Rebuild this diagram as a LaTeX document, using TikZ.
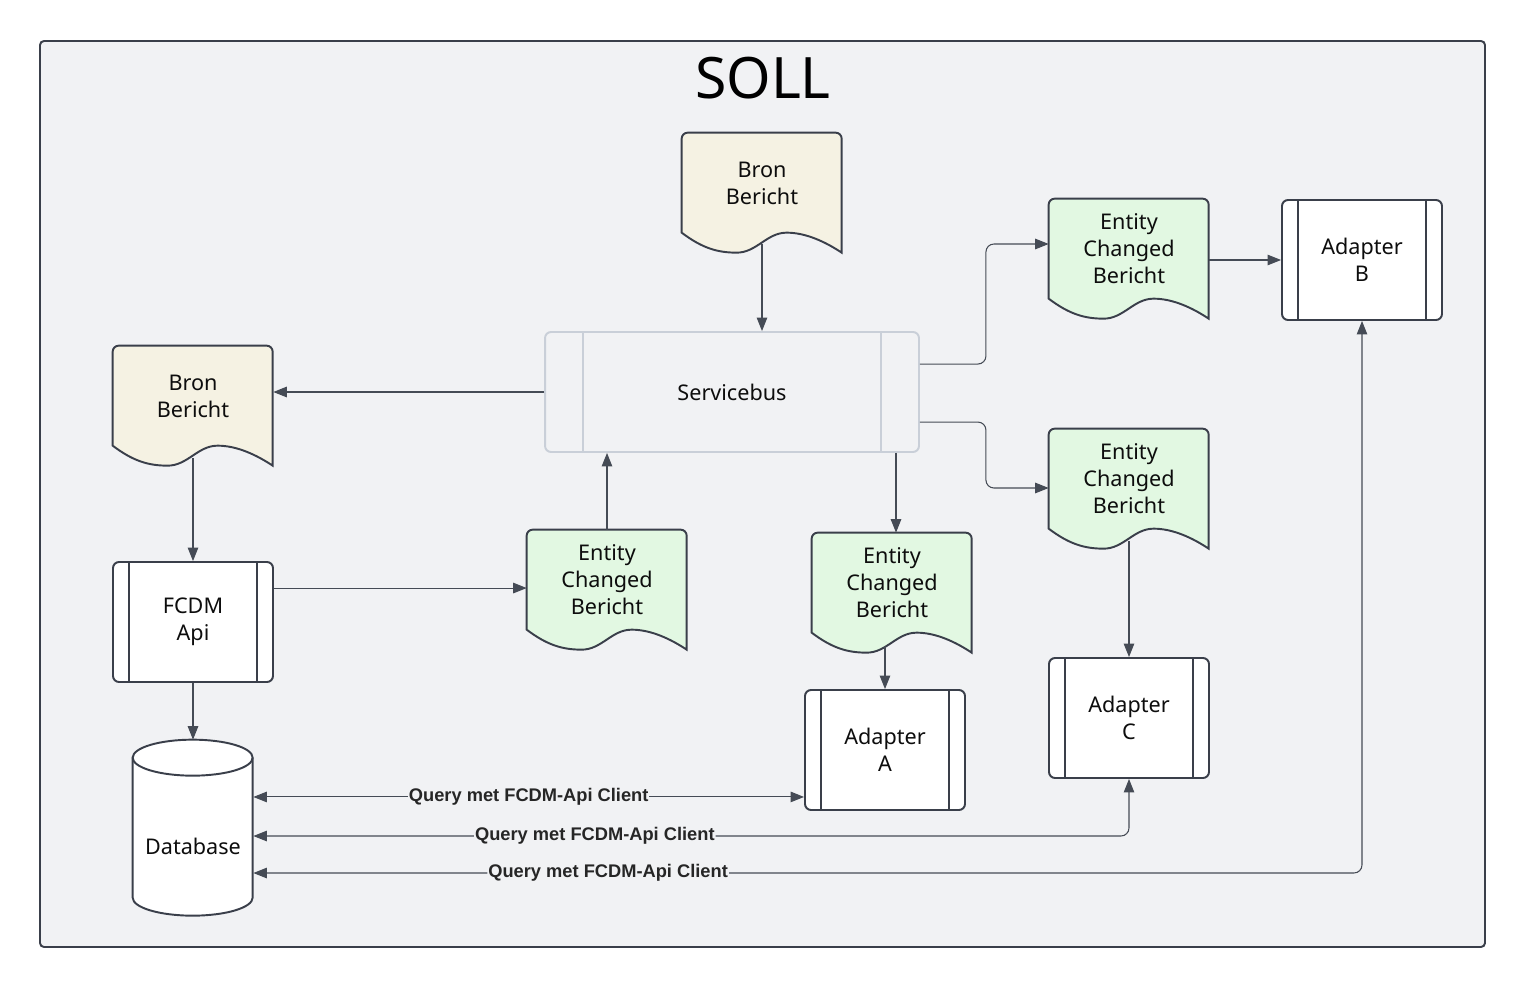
\documentclass[tikz,border=0pt]{standalone}
\usepackage{fontspec}
\setmainfont{Noto Sans}
\newfontfamily\lblfont{Liberation Sans}
\usetikzlibrary{arrows.meta,calc,positioning}

\definecolor{bgcol}{HTML}{F1F2F4}
\definecolor{framecol}{HTML}{3A3F4A}
\definecolor{shapeline}{HTML}{3A3F4A}
\definecolor{arrcol}{HTML}{454B55}
\definecolor{cream}{HTML}{F5F2E3}
\definecolor{mint}{HTML}{E2F8E2}
\definecolor{buscol}{HTML}{C9CFD8}

\pgfdeclarelayer{bg}
\pgfdeclarelayer{shapes}
\pgfsetlayers{bg,shapes,main}

\begin{document}
\begin{tikzpicture}[
    x=0.02cm, y=-0.02cm,
    txt/.style={font=\fontsize{12.3}{15.4}\selectfont, text=black!95, align=center},
    docshape/.style={txt, minimum width=3.2cm, minimum height=2cm, inner sep=0pt,
      append after command={\pgfextra{
        \begin{pgfonlayer}{shapes}
        \draw[shapeline, line width=1.1pt, fill=#1, shift={(\tikzlastnode.north west)}]
          (0,100) [rounded corners=0.12cm] -- (0,0) -- (160,0) -- (160,50) [sharp corners] -- (160,120)
          .. controls (145,110) and (125,100) .. (105,100)
          .. controls (85,100) and (75,120) .. (55,120)
          .. controls (35,120) and (20,115) .. (0,100) -- cycle;
        \end{pgfonlayer}}}},
    proc/.style 2 args={txt, draw=#2, line width=1.1pt, fill=white, rounded corners=0.12cm,
      minimum width=3.2cm, minimum height=2.4cm, inner sep=0pt,
      path picture={\draw[#2, line width=1.1pt]
        ([xshift=#1]path picture bounding box.north west) -- ([xshift=#1]path picture bounding box.south west)
        ([xshift=-#1]path picture bounding box.north east) -- ([xshift=-#1]path picture bounding box.south east);}},
    dbshape/.style={txt, minimum width=2.4cm, minimum height=2.8cm, inner sep=0pt,
      append after command={\pgfextra{
        \begin{pgfonlayer}{shapes}
        \begin{scope}[shift={(\tikzlastnode.north west)}]
        \draw[shapeline, line width=1.1pt, fill=white] (0,-18) -- (0,122)
          arc[start angle=180, end angle=360, x radius=1.2cm, y radius=0.36cm] -- (120,-18)
          arc[start angle=0, end angle=180, x radius=1.2cm, y radius=0.36cm] -- cycle;
        \draw[shapeline, line width=1.1pt] (0,-18) arc[start angle=180, end angle=360, x radius=1.2cm, y radius=0.36cm];
        \end{scope}
        \end{pgfonlayer}}}},
    arr/.style={-{Triangle[length=0.27cm, width=0.21cm]}, arrcol, line width=0.6pt},
    arr2/.style={{Triangle[length=0.27cm, width=0.21cm]}-{Triangle[length=0.27cm, width=0.21cm]}, arrcol, line width=0.6pt},
    lbl/.style={fill=bgcol, inner sep=0.5pt, text=black!85, font=\lblfont\bfseries\fontsize{10.4}{12}\selectfont}
]
\useasboundingbox (0,0) rectangle (1526,987);
\begin{pgfonlayer}{bg}
\draw[framecol, line width=1.1pt, fill=bgcol, rounded corners=0.08cm] (40,41) rectangle (1485,947);
\end{pgfonlayer}

\node[font=\fontsize{32.5}{36}\selectfont] (title) at (763,78) {SOLL};

% berichten
\node[docshape=cream] (bron1) at (762,183) {Bron\\Bericht};
\node[docshape=cream] (bron2) at (193,396) {Bron\\Bericht};
\node[docshape=mint] (ecb1) at (607,580) {Entity\\Changed\\Bericht};
\node[docshape=mint] (ecb2) at (892,583) {Entity\\Changed\\Bericht};
\node[docshape=mint] (ecb3) at (1129,249) {Entity\\Changed\\Bericht};
\node[docshape=mint] (ecb4) at (1129,479) {Entity\\Changed\\Bericht};

% processen
\node[proc={0.76cm}{buscol}, fill=bgcol, minimum width=7.48cm] (bus) at (732,392) {Servicebus};
\node[proc={0.32cm}{shapeline}] (fcdm) at (193,622) {FCDM\\Api};
\node[proc={0.32cm}{shapeline}] (adA) at (885,750) {Adapter\\A};
\node[proc={0.32cm}{shapeline}] (adB) at (1362,260) {Adapter\\B};
\node[proc={0.32cm}{shapeline}] (adC) at (1129,718) {Adapter\\C};
\node[dbshape] (db) at (193,846) {Database};

\draw[arr] ($(bron1.south)+(0,11)$) -- (bron1.south |- bus.north);
\draw[arr] (bus.west) -- (bus.west -| bron2.east);
\draw[arr] ($(bron2.south)+(0,12)$) -- (fcdm.north);
\draw[arr] (fcdm.south) -- ($(db.north)+(0,-36)$);
\draw[arr] ($(fcdm.north east)+(0,27)$) coordinate (f1) -- (f1 -| ecb1.west);
\draw[arr] (ecb1.north) -- (ecb1.north |- bus.south);
\draw[arr] (bus.south -| ecb2.north) ++(4,0) -- ($(ecb2.north)+(4,0)$);
\draw[arr] ($(adA.north |- ecb2.south)+(0,13)$) -- (adA.north);
\draw[arr, rounded corners=0.16cm] ($(bus.north east)+(0,33)$) -- ++(66,0) |- ($(ecb3.west)+(0,-5)$);
\draw[arr, rounded corners=0.16cm] ($(bus.north east)+(0,91)$) -- ++(66,0) |- ($(ecb4.west)+(0,9)$);
\draw[arr] (adB.west -| ecb3.east) -- (adB.west);
\draw[arr] ($(ecb4.south)+(0,12)$) -- (adC.north);

% queries
\coordinate (qa) at ($(adA.south west)+(0,-14)$);
\draw[arr2] (qa -| db.east) -- (qa) node[lbl, midway] {Query met FCDM-Api Client};
\draw[arr2, rounded corners=0.16cm] (adC.south) |- ($(db.east)+(0,-10)$) node[lbl, pos=0.805] {Query met FCDM-Api Client};
\draw[arr2, rounded corners=0.16cm] (adB.south) |- ($(db.east)+(0,27)$) node[lbl, pos=0.84] {Query met FCDM-Api Client};
\end{tikzpicture}
\end{document}
